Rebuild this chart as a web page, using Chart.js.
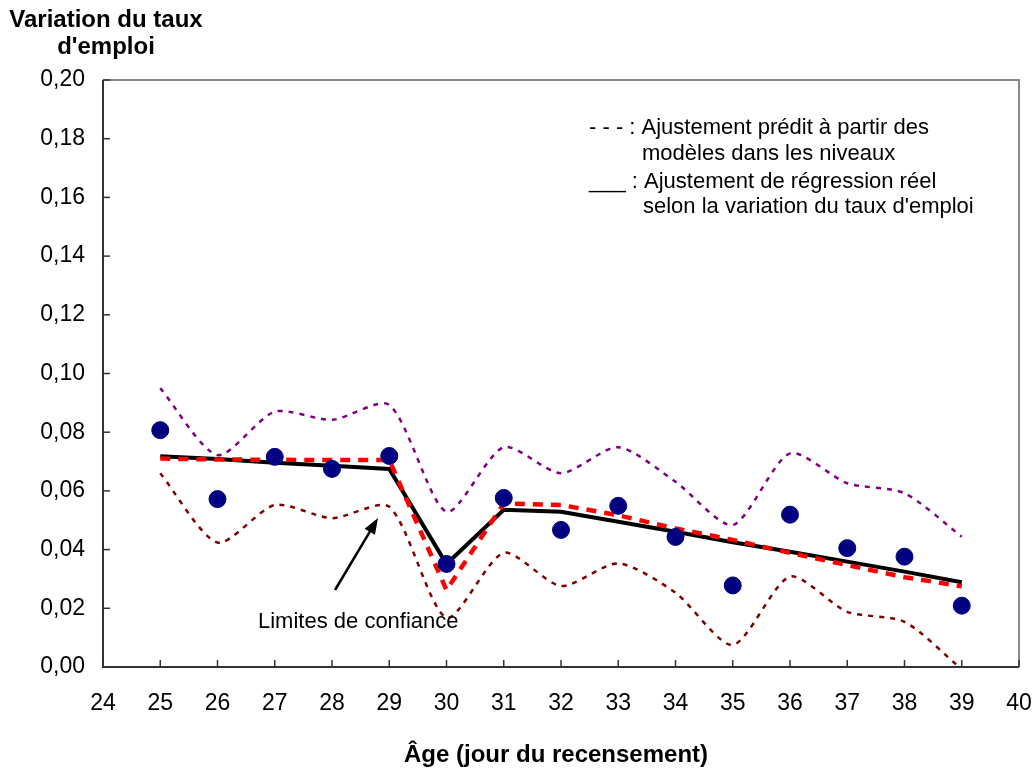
<!DOCTYPE html>
<html>
<head>
<meta charset="utf-8">
<script src="https://cdn.jsdelivr.net/npm/chart.js@4.4.0/dist/chart.umd.min.js"></script>
<style>
  html, body { margin: 0; padding: 0; background: #fff; }
  #wrap { width: 1036px; height: 774px; position: relative; }
</style>
</head>
<body>
<div id="wrap"><canvas id="chart1" width="1036" height="774"></canvas></div>
<script>
var ages = [25, 26, 27, 28, 29, 30, 31, 32, 33, 34, 35, 36, 37, 38, 39];
var observed = [0.0807, 0.0572, 0.0716, 0.0675, 0.0719, 0.0351, 0.0576, 0.0467, 0.0549, 0.0443, 0.0278, 0.0519, 0.0405, 0.0376, 0.0209];
var actualFit = [0.0718, 0.0709, 0.0696, 0.0686, 0.0675, 0.0351, 0.0536, 0.0529, 0.0495, 0.0461, 0.0425, 0.0393, 0.0359, 0.0325, 0.0289];
var predictedFit = [0.0710, 0.0707, 0.0706, 0.0705, 0.0705, 0.0262, 0.0557, 0.0552, 0.0517, 0.0472, 0.0433, 0.0389, 0.0347, 0.0306, 0.0275];
var upperLimit = [0.0950, 0.0722, 0.0870, 0.0842, 0.0893, 0.0529, 0.0749, 0.0660, 0.0749, 0.0631, 0.0484, 0.0728, 0.0626, 0.0592, 0.0444];
var lowerLimit = [0.0660, 0.0424, 0.0552, 0.0507, 0.0546, 0.0168, 0.0389, 0.0276, 0.0353, 0.0253, 0.0075, 0.0308, 0.0188, 0.0154, -0.0008];
var xTicks = [24, 25, 26, 27, 28, 29, 30, 31, 32, 33, 34, 35, 36, 37, 38, 39, 40];
var yTicks = [0, 0.02, 0.04, 0.06, 0.08, 0.10, 0.12, 0.14, 0.16, 0.18, 0.20];

function pts(values) {
  return ages.map(function (a, i) { return { x: a, y: values[i] }; });
}

var font = 'Arial, "Liberation Sans", sans-serif';

// inward ticks, frame, notes and arrow
var decorations = {
  id: 'decorations',
  afterDraw: function (chart) {
    var ctx = chart.ctx;
    var xs = chart.scales.x, ys = chart.scales.y;
    var a = chart.chartArea;
    ctx.save();
    // frame: top and right in gray
    ctx.strokeStyle = '#888';
    ctx.lineWidth = 2;
    ctx.beginPath();
    ctx.moveTo(a.left, a.top);
    ctx.lineTo(a.right, a.top);
    ctx.lineTo(a.right, a.bottom);
    ctx.stroke();
    ctx.strokeStyle = '#333';
    ctx.beginPath();
    ctx.moveTo(a.left, a.top);
    ctx.lineTo(a.left, a.bottom);
    ctx.lineTo(a.right, a.bottom);
    ctx.stroke();
    ctx.lineWidth = 1.5;
    yTicks.forEach(function (v) {
      var y = ys.getPixelForValue(v);
      ctx.beginPath();
      ctx.moveTo(a.left, y);
      ctx.lineTo(a.left + 7, y);
      ctx.stroke();
    });
    xTicks.forEach(function (v) {
      var x = xs.getPixelForValue(v);
      ctx.beginPath();
      ctx.moveTo(x, a.bottom);
      ctx.lineTo(x, a.bottom - 7);
      ctx.stroke();
    });

    // note texts
    ctx.fillStyle = '#000';
    ctx.font = '22px ' + font;
    ctx.textBaseline = 'middle';
    ctx.textAlign = 'left';
    ctx.fillText('- - - : Ajustement prédit à partir des', 589, 128);
    ctx.fillText('modèles dans les niveaux', 642, 154);
    ctx.fillText('___ : Ajustement de régression réel', 589, 182);
    ctx.fillText("selon la variation du taux d'emploi", 643, 207);
    ctx.fillText('Limites de confiance', 258, 622);

    // arrow
    ctx.strokeStyle = '#000';
    ctx.lineWidth = 2.5;
    var x0 = 335, y0 = 590, x1 = 378, y1 = 518;
    var ang = Math.atan2(y1 - y0, x1 - x0);
    ctx.beginPath();
    ctx.moveTo(x0, y0);
    ctx.lineTo(x1 - 10 * Math.cos(ang), y1 - 10 * Math.sin(ang));
    ctx.stroke();
    ctx.beginPath();
    ctx.moveTo(x1, y1);
    ctx.lineTo(x1 - 16 * Math.cos(ang) + 6 * Math.sin(ang), y1 - 16 * Math.sin(ang) - 6 * Math.cos(ang));
    ctx.lineTo(x1 - 16 * Math.cos(ang) - 6 * Math.sin(ang), y1 - 16 * Math.sin(ang) + 6 * Math.cos(ang));
    ctx.closePath();
    ctx.fillStyle = '#000';
    ctx.fill();

    // axis titles
    ctx.font = 'bold 24px ' + font;
    ctx.textAlign = 'center';
    ctx.textBaseline = 'alphabetic';
    ctx.fillText('Variation du taux', 106, 27);
    ctx.fillText("d'emploi", 106, 54);
    ctx.fillText('Âge (jour du recensement)', 556, 762);
    ctx.restore();
  }
};

var fitChart = new Chart(document.getElementById('chart1'), {
  type: 'scatter',
  data: {
    datasets: [
      {
        label: 'Limite supérieure',
        data: pts(upperLimit),
        showLine: true,
        borderColor: '#800080',
        borderWidth: 2.5,
        borderDash: [5, 6],
        tension: 0.25,
        pointRadius: 0,
        order: 5
      },
      {
        label: 'Limite inférieure',
        data: pts(lowerLimit),
        showLine: true,
        borderColor: '#800000',
        borderWidth: 2.5,
        borderDash: [5, 6],
        tension: 0.25,
        pointRadius: 0,
        order: 4
      },
      {
        label: 'Ajustement de régression réel',
        data: pts(actualFit),
        showLine: true,
        borderColor: '#000',
        borderWidth: 4,
        tension: 0,
        pointRadius: 0,
        order: 3
      },
      {
        label: 'Ajustement prédit',
        data: pts(predictedFit),
        showLine: true,
        borderColor: '#ff0000',
        borderWidth: 4.5,
        borderDash: [10, 8],
        tension: 0,
        pointRadius: 0,
        order: 2
      },
      {
        label: 'Observé',
        data: pts(observed),
        showLine: false,
        pointRadius: 8.5,
        pointBackgroundColor: '#000080',
        pointBorderColor: '#000080',
        order: 1
      }
    ]
  },
  options: {
    responsive: false,
    animation: false,
    layout: { padding: { top: 80, right: 17, left: 0, bottom: 0 } },
    plugins: {
      legend: { display: false },
      tooltip: { enabled: false }
    },
    scales: {
      x: {
        type: 'linear',
        min: 24,
        max: 40,
        afterBuildTicks: function (s) { s.ticks = xTicks.map(function (v) { return { value: v }; }); },
        afterFit: function (s) { s.height = 107; s.paddingLeft = 0; s.paddingRight = 0; },
        grid: { display: false, drawTicks: false },
        border: { display: false },
        ticks: {
          padding: 23,
          color: '#000',
          font: { size: 23, family: font }
        }
      },
      y: {
        min: 0,
        max: 0.20,
        afterBuildTicks: function (s) { s.ticks = yTicks.map(function (v) { return { value: v }; }); },
        afterFit: function (s) { s.width = 103; s.paddingTop = 0; s.paddingBottom = 0; },
        grid: { display: false, drawTicks: false },
        border: { display: false },
        ticks: {
          padding: 18,
          color: '#000',
          font: { size: 23, family: font },
          callback: function (v) { return v.toFixed(2).replace('.', ','); }
        }
      }
    }
  },
  plugins: [decorations]
});
</script>
</body>
</html>
